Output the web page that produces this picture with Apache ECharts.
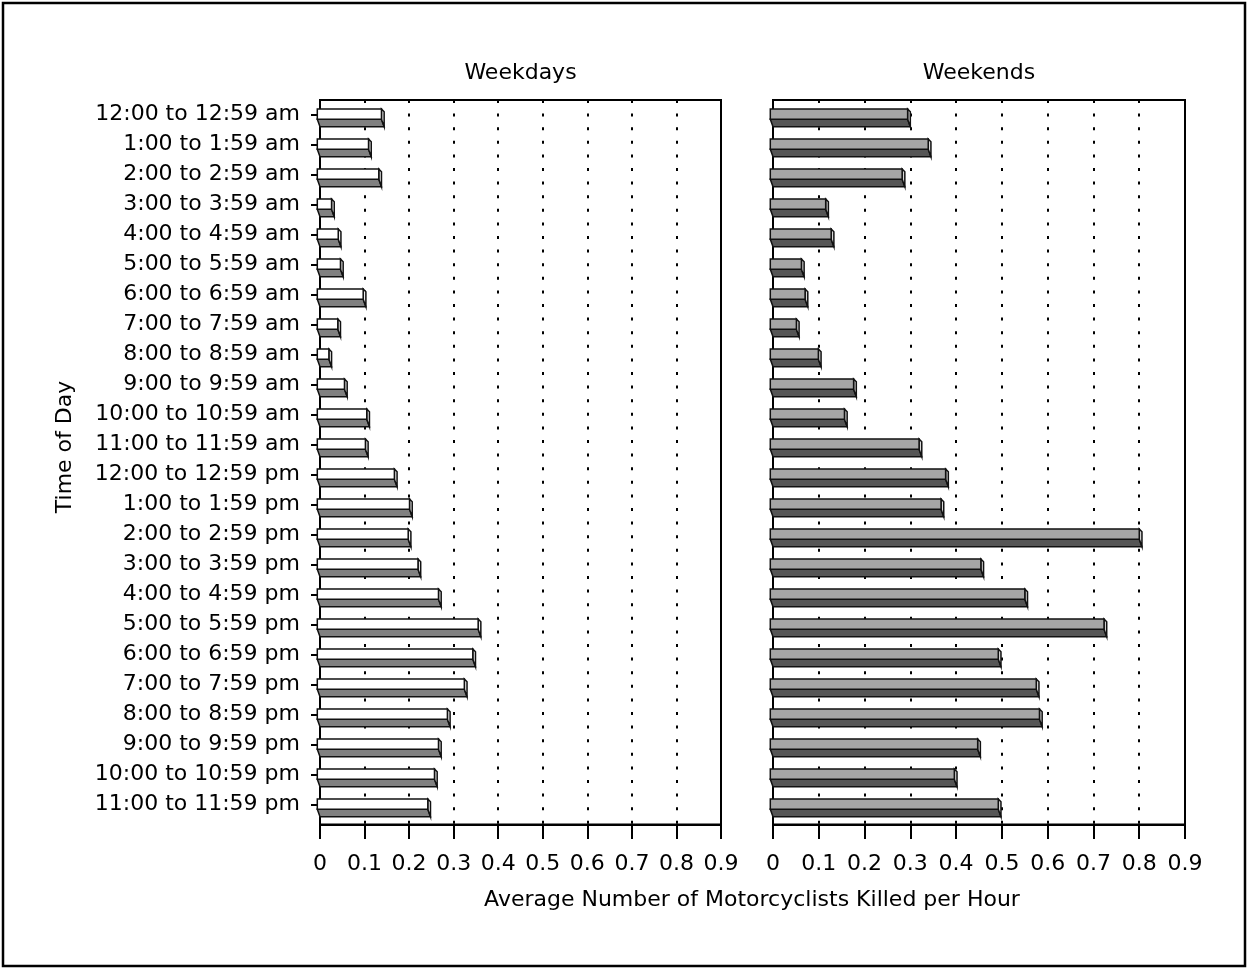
<!DOCTYPE html>
<html>
<head>
<meta charset="utf-8">
<script src="https://cdn.jsdelivr.net/npm/echarts@6/dist/echarts.min.js"></script>
<style>
html,body{margin:0;padding:0;background:#fff;}
#chart{width:1248px;height:969px;}
</style>
</head>
<body>
<div id="chart"></div>
<script>
const categories = [
  "12:00 to 12:59 am","1:00 to 1:59 am","2:00 to 2:59 am","3:00 to 3:59 am",
  "4:00 to 4:59 am","5:00 to 5:59 am","6:00 to 6:59 am","7:00 to 7:59 am",
  "8:00 to 8:59 am","9:00 to 9:59 am","10:00 to 10:59 am","11:00 to 11:59 am",
  "12:00 to 12:59 pm","1:00 to 1:59 pm","2:00 to 2:59 pm","3:00 to 3:59 pm",
  "4:00 to 4:59 pm","5:00 to 5:59 pm","6:00 to 6:59 pm","7:00 to 7:59 pm",
  "8:00 to 8:59 pm","9:00 to 9:59 pm","10:00 to 10:59 pm","11:00 to 11:59 pm"
];
const weekdays = [
  0.144, 0.115, 0.138, 0.032, 0.047, 0.052, 0.103, 0.046, 0.026, 0.061, 0.111, 0.108,
  0.173, 0.207, 0.204, 0.226, 0.272, 0.361, 0.349, 0.330, 0.292, 0.272, 0.263, 0.248
];
const weekends = [
  0.300, 0.345, 0.288, 0.121, 0.133, 0.068, 0.076, 0.057, 0.105, 0.182, 0.162, 0.325,
  0.383, 0.373, 0.806, 0.460, 0.556, 0.729, 0.498, 0.581, 0.588, 0.453, 0.402, 0.498
];
const panelTitles = ["Weekdays", "Weekends"];
const xAxisTitle = "Average Number of Motorcyclists Killed per Hour";
const yAxisTitle = "Time of Day";

const FONT = "DejaVu Sans";
const chart = echarts.init(document.getElementById('chart'), null, {renderer: 'canvas'});

function render3D(front, dark, side) {
  return function (params, api) {
    const v = api.value(0), i = api.value(1);
    const a = api.coord([0, i]), b = api.coord([v, i]);
    const c = a[1], x0 = a[0], x1 = b[0], d = 2.7;
    const top = c - 5.5, mid = c + 4.7, bot = c + 12.2;
    const st = {stroke: '#111', lineWidth: 1.5};
    return {
      type: 'group',
      children: [
        {type: 'polygon', shape: {points: [[x0 - d, mid], [x1 - d, mid], [x1, bot], [x0, bot]]},
          style: Object.assign({fill: dark}, st)},
        {type: 'polygon', shape: {points: [[x1 - d, top], [x1, top + 2.7], [x1, bot], [x1 - d, mid]]},
          style: Object.assign({fill: side}, st)},
        {type: 'rect', shape: {x: x0 - d, y: top, width: x1 - x0, height: mid - top},
          style: Object.assign({fill: front}, st)}
      ]
    };
  };
}

const panels = [{left: 320, width: 401}, {left: 773, width: 412}];
const grids = [], xAxes = [], yAxes = [];
panels.forEach((p, k) => {
  grids.push({left: p.left, top: 100, width: p.width, height: 724.5, show: true,
    borderColor: '#000', borderWidth: 2, backgroundColor: 'transparent'});
  grids.push({left: p.left, top: 99.5, width: p.width, height: 720, show: false});
  xAxes.push({
    type: 'value', gridIndex: 2 * k, min: 0, max: 0.9, interval: 0.1,
    axisLine: {show: true, lineStyle: {color: '#000', width: 2}},
    axisTick: {show: true, length: 14.5, lineStyle: {color: '#000', width: 2}},
    axisLabel: {show: true, margin: 29, fontFamily: FONT, fontSize: 22, color: '#000',
      formatter: v => String(Math.round(v * 10) / 10)},
    splitLine: {show: true, lineStyle: {color: '#000', width: 2, type: [3, 10.6]}}
  });
  xAxes.push({
    type: 'value', gridIndex: 2 * k + 1, min: 0, max: 0.9, interval: 0.1, show: false
  });
  yAxes.push({type: 'value', gridIndex: 2 * k, show: false, min: 0, max: 1});
  yAxes.push({
    type: 'category', gridIndex: 2 * k + 1, data: categories, inverse: true,
    axisLine: {show: false},
    axisTick: {show: k === 0, alignWithLabel: true, interval: 0, length: 9,
      lineStyle: {color: '#000', width: 2}},
    axisLabel: {show: k === 0, interval: 0, margin: 20, padding: [4, 0, 0, 0],
      fontFamily: FONT, fontSize: 22, color: '#000'},
    splitLine: {show: false}
  });
});

const option = {
  backgroundColor: '#fff',
  animation: false,
  grid: grids,
  xAxis: xAxes,
  yAxis: yAxes,
  series: [
    {type: 'custom', xAxisIndex: 1, yAxisIndex: 1, clip: false,
      renderItem: render3D('#ffffff', '#808080', '#f0f0f0'),
      encode: {x: 0, y: 1},
      data: weekdays.map((v, i) => [v, i])},
    {type: 'custom', xAxisIndex: 3, yAxisIndex: 3, clip: false,
      renderItem: render3D('#a6a6a6', '#555555', '#d9d9d9'),
      encode: {x: 0, y: 1},
      data: weekends.map((v, i) => [v, i])}
  ],
  graphic: [
    {type: 'rect', shape: {x: 3, y: 3, width: 1242, height: 963},
      style: {fill: 'none', stroke: '#000', lineWidth: 2.5}, z: 100},
    {type: 'text', x: 520.5, y: 73, style: {text: panelTitles[0], font: '22px "DejaVu Sans"',
      fill: '#000', textAlign: 'center', textVerticalAlign: 'middle'}},
    {type: 'text', x: 979, y: 73, style: {text: panelTitles[1], font: '22px "DejaVu Sans"',
      fill: '#000', textAlign: 'center', textVerticalAlign: 'middle'}},
    {type: 'text', x: 752, y: 900, style: {text: xAxisTitle, font: '22px "DejaVu Sans"',
      fill: '#000', textAlign: 'center', textVerticalAlign: 'middle'}},
    {type: 'text', x: 65, y: 447, rotation: Math.PI / 2, style: {text: yAxisTitle,
      font: '22px "DejaVu Sans"', fill: '#000', textAlign: 'center', textVerticalAlign: 'middle'}}
  ]
};
chart.setOption(option);
</script>
</body>
</html>
